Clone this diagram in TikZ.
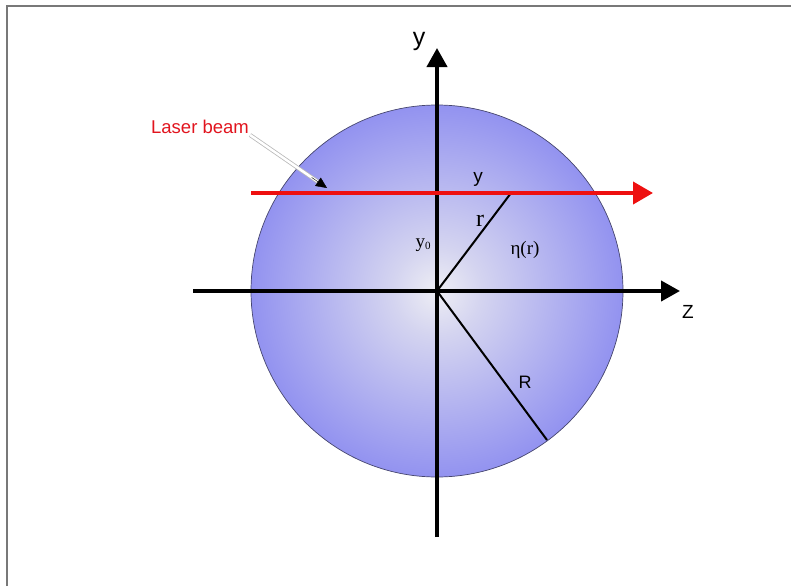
\documentclass[tikz,border=0pt]{standalone}
\usepackage{fontspec}
\setmainfont{Liberation Sans}
\newfontfamily\serifx{Liberation Serif}
\usetikzlibrary{arrows.meta,calc}
\definecolor{ballin}{RGB}{238,238,244}
\definecolor{ballmid}{RGB}{212,212,240}
\definecolor{ballout}{RGB}{112,112,240}
\definecolor{framegray}{RGB}{120,120,120}
\definecolor{beamred}{RGB}{238,16,16}
\definecolor{labred}{RGB}{225,20,30}
\pgfdeclareradialshading{ballshade}{\pgfpoint{0bp}{0bp}}{color(0bp)=(ballin); color(6bp)=(ballmid); color(35bp)=(ballout); color(50bp)=(ballout)}
\tikzset{
  axis/.style={line width=4pt, -{Triangle[length=19pt,width=20pt]}},
  beamline/.style={line width=4pt, draw=beamred, -{Triangle[length=20pt,width=22pt]}},
  radline/.style={line width=2pt},
  sanslab/.style={inner sep=1pt, font=\fontsize{19}{19}\selectfont},
  seriflab/.style={inner sep=1pt, font=\serifx\fontsize{19}{19}\selectfont},
}
\begin{document}
\begin{tikzpicture}[x=1pt,y=-1pt]
\useasboundingbox (0,0) rectangle (791,586);
\draw[framegray, line width=1.5pt] (7,586) -- (7,6) -- (791,6);
% sphere
\node[circle, inner sep=0pt, minimum size=372pt, shading=ballshade, draw={rgb,255:red,70;green,70;blue,110}, line width=0.7pt] (ball) at (437,291) {};
\coordinate (O) at (437,291);
\coordinate (ytop) at (437,48);
\coordinate (ybot) at (437,537);
\coordinate (zl) at (193,291);
\coordinate (zr) at (680,291);
\coordinate (bl) at (251,193);
\coordinate (br) at (653,193);
\coordinate (P) at (511,193);
\coordinate (Q) at (547,440);
\coordinate (ptip) at (327,188);
% axes
\draw[axis] (ybot) -- (ytop);
\draw[axis] (zl) -- (zr);
% radii
\draw[radline] (O) -- (P);
\draw[radline] (O) -- (Q);
% beam
\draw[beamline] (bl) -- (br);
% labels
\node[sanslab, font=\fontsize{25}{25}\selectfont] (ylab) at (419,41) {y};
\node[sanslab] (zlab) at (688,312) {Z};
\node[sanslab] (ybeam) at (478,179) {y};
\node[seriflab, font=\serifx\fontsize{24}{24}\selectfont] (rlab) at (480,221) {r};
\node[seriflab] (y0lab) at (423,245) {y\raisebox{-2pt}{\fontsize{11}{11}\selectfont 0}};
\node[seriflab] (etalab) at (525,250) {η(r)};
\node[sanslab, font=\fontsize{18}{18}\selectfont] (Rlab) at (525,382) {R};
\node[sanslab, text=labred, font=\fontsize{18.5}{18.5}\selectfont] (laser) at (200,127) {Laser beam};
% pointer arrow
\draw[draw=gray!55, double=white, double distance=2.5pt, line width=0.8pt, shorten >=9pt] (laser.south east) -- (ptip);
\draw[line width=0.4pt, -{Triangle[length=11pt,width=10pt]}] ($(laser.south east)!0.8!(ptip)$) -- (ptip);
\end{tikzpicture}
\end{document}
